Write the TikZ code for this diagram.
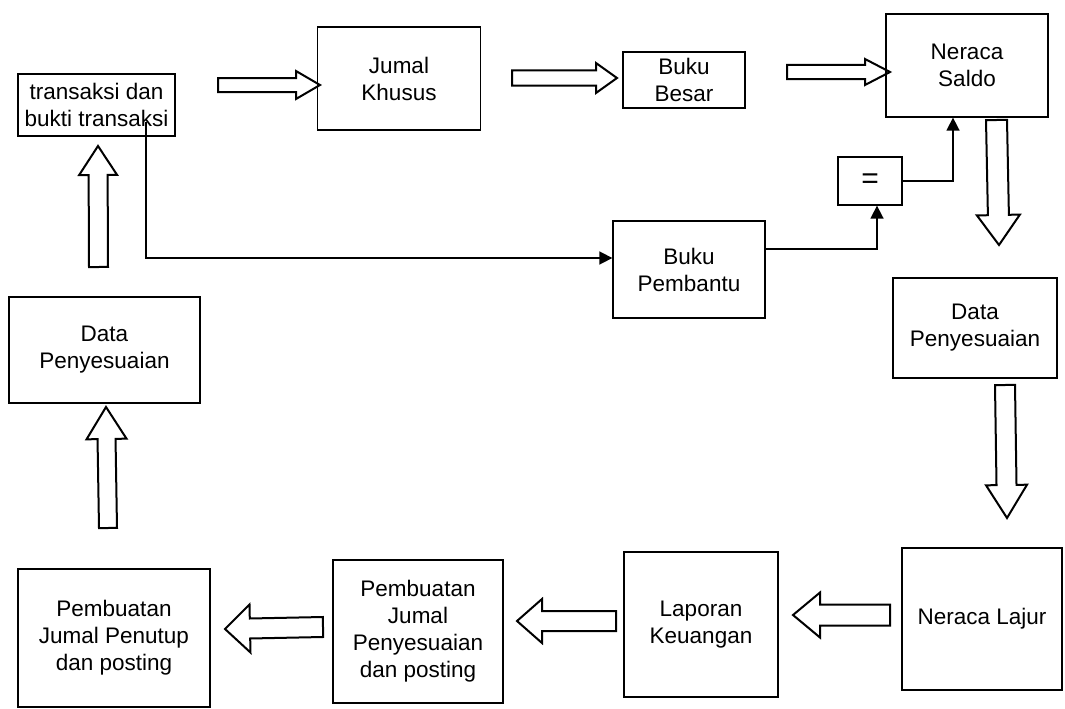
\documentclass[tikz,border=0pt]{standalone}
\usepackage{fontspec}
\setmainfont{Liberation Sans}
\usetikzlibrary{calc,arrows.meta}
\tikzset{
  box/.style={draw, line width=1.3pt, inner sep=0pt, align=center, font=\fontsize{22.5}{27}\selectfont},
  fat/.style={draw, line width=2pt, line join=miter},
  conn/.style={draw, line width=1.6pt, -{Triangle[length=13pt,width=13pt]}},
}
\newcommand\fatarrow[5]{%
  \coordinate (fah) at ($(#2)!#5!(#1)$);
  \draw[fat] ($(#1)!#3!90:(#2)$) -- ($(fah)!#3!90:(#2)$) -- ($(fah)!#4!90:(#2)$) -- (#2)
    -- ($(fah)!#4!-90:(#2)$) -- ($(fah)!#3!-90:(#2)$) -- ($(#1)!#3!-90:(#2)$) -- cycle;
}
\begin{document}
\begin{tikzpicture}[x=1pt,y=-1pt]
\useasboundingbox (0,0) rectangle (1065,709);
% nodes
\node[box, minimum width=157, minimum height=62] (trans) at (96.5,105) {transaksi dan\\bukti transaksi};
\node[box, minimum width=163, minimum height=103] (jk) at (399,78.5) {Jumal\\Khusus};
\node[box, minimum width=122, minimum height=56] (bb) at (684,80) {Buku\\Besar};
\node[box, minimum width=162, minimum height=103] (ns) at (967,65.5) {Neraca\\Saldo};
\node[box, minimum width=64, minimum height=48, font=\fontsize{30}{30}\selectfont] (eq) at (870,181) {=};
\node[box, minimum width=152, minimum height=97] (bp) at (689,269.5) {Buku\\Pembantu};
\node[box, minimum width=164, minimum height=100] (dpr) at (975,328) {Data\\Penyesuaian};
\node[box, minimum width=191, minimum height=106] (dpl) at (104.5,350) {Data\\Penyesuaian};
\node[box, minimum width=192, minimum height=138] (pjp) at (114,638) {Pembuatan\\Jumal Penutup\\dan posting};
\node[box, minimum width=170, minimum height=143] (pjpp) at (418,631.5) {Pembuatan\\Jumal\\Penyesuaian\\dan posting};
\node[box, minimum width=154, minimum height=145] (lk) at (701,624.5) {Laporan\\Keuangan};
\node[box, minimum width=160, minimum height=142] (nl) at (982,619) {Neraca Lajur};
% block arrow end points
\coordinate (a1t) at (218,85);   \coordinate (a1h) at (320,85);
\coordinate (a2t) at (512,78);   \coordinate (a2h) at (617,78);
\coordinate (a3t) at (787,72);   \coordinate (a3h) at (890,72);
\coordinate (a4t) at (996.5,120); \coordinate (a4h) at (999,245);
\coordinate (a5t) at (1005,385); \coordinate (a5h) at (1007,518);
\coordinate (a6t) at (890,615);  \coordinate (a6h) at (793,615);
\coordinate (a7t) at (616,621);  \coordinate (a7h) at (517,621);
\coordinate (a8t) at (323,627);  \coordinate (a8h) at (225,629);
\coordinate (a9t) at (108,528);  \coordinate (a9h) at (106,407);
\coordinate (a10t) at (98.5,267); \coordinate (a10h) at (98,146);
\fatarrow{a1t}{a1h}{7pt}{14pt}{24pt}
\fatarrow{a2t}{a2h}{7.5pt}{15pt}{21pt}
\fatarrow{a3t}{a3h}{7pt}{13pt}{25pt}
\fatarrow{a4t}{a4h}{10.5pt}{21.5pt}{30pt}
\fatarrow{a5t}{a5h}{10pt}{20.5pt}{33pt}
\fatarrow{a6t}{a6h}{10.5pt}{22.5pt}{27pt}
\fatarrow{a7t}{a7h}{10pt}{22pt}{25pt}
\fatarrow{a8t}{a8h}{10pt}{24pt}{25pt}
\fatarrow{a9t}{a9h}{9pt}{20pt}{32pt}
\fatarrow{a10t}{a10h}{9.5pt}{19pt}{29pt}
% thin connectors
\coordinate (tstart) at (146,122);
\coordinate (tbend) at (146,258);
\draw[conn] (tstart) -- (tbend) -- (tbend -| bp.west);
\coordinate (bpout) at (bp.east |- 0,249);
\draw[conn] (bpout) -| ($(eq.south)+(7,0)$);
\draw[conn] (eq.east) -| ($(ns.south)+(-14,0)$);
\end{tikzpicture}
\end{document}
